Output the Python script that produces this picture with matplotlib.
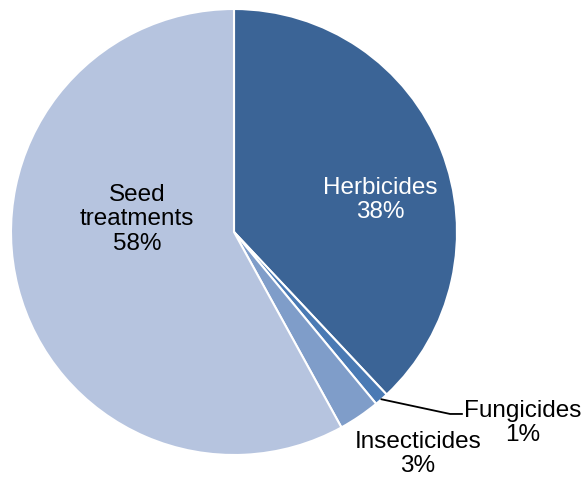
import numpy as np
import matplotlib.pyplot as plt

plt.rcParams['font.family'] = ['Liberation Sans', 'DejaVu Sans']

# Pesticide use shares
categories = ["Herbicides", "Fungicides", "Insecticides", "Seed\ntreatments"]
shares = [38, 1, 3, 58]
colors = ["#3b6496", "#4a7ab4", "#7f9dc9", "#b6c4df"]

fig = plt.figure(figsize=(5.84, 4.84), dpi=100)
ax = fig.add_axes([0, 0, 1, 1])

wedges, _ = ax.pie(shares, colors=colors, startangle=90, counterclock=False,
                   radius=1.0, center=(0, 0),
                   wedgeprops=dict(edgecolor="white", linewidth=1.5))

# map pixel layout: centre at (234, 232), radius 223 px
scale = 223.0
ax.set_xlim(-234 / scale, (584 - 234) / scale)
ax.set_ylim(-(484 - 232) / scale, 232 / scale)
ax.set_aspect("auto")
ax.axis("off")

fs = 17.5
labels = [f"{c}\n{s}%" for c, s in zip(categories, shares)]

ax.text(0.655, 0.143, labels[0], ha="center", va="center", fontsize=fs,
        color="white", linespacing=1.15)
ax.text(-0.435, 0.058, labels[3], ha="center", va="center", fontsize=fs,
        color="black", linespacing=1.15)
ax.text(0.825, -0.996, labels[2], ha="center", va="center", fontsize=fs,
        color="black", linespacing=1.15)

# Fungicides label with leader line from the wedge middle
w = wedges[1]
mid = np.deg2rad((w.theta1 + w.theta2) / 2)
x0, y0 = np.cos(mid), np.sin(mid)
ax.plot([x0, 0.969, 1.022], [y0, -0.816, -0.816], color="black", lw=1.3)
ax.text(1.296, -0.857, labels[1], ha="center", va="center", fontsize=fs,
        color="black", linespacing=1.15)

fig.savefig("out.png", dpi=100)
